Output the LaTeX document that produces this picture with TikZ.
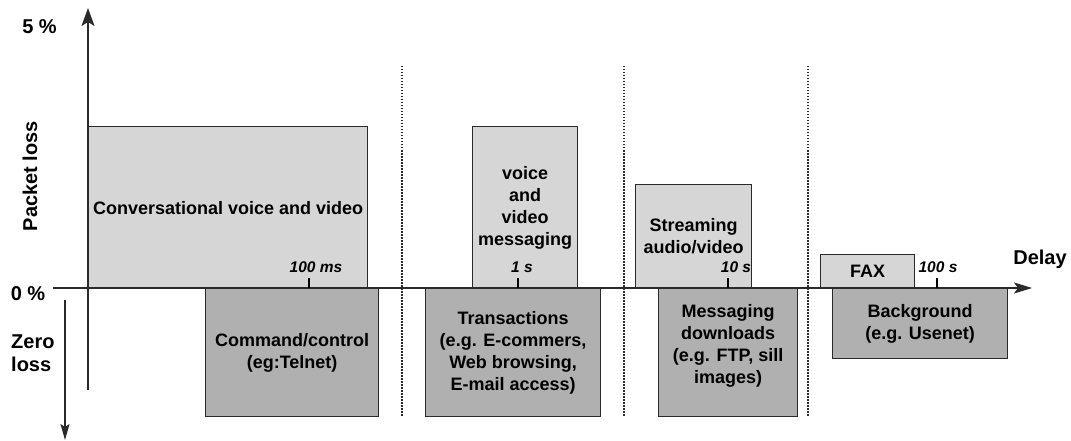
\documentclass[tikz,border=0pt]{standalone}
\usepackage{fontspec}
\setmainfont{Liberation Sans}
\usetikzlibrary{arrows.meta}
\definecolor{upfill}{HTML}{D6D6D6}
\definecolor{downfill}{HTML}{B0B0B0}
\definecolor{edge}{HTML}{2A2A2A}
\tikzset{
  axisline/.style={draw=edge, line width=1.4pt},
  upbox/.style={draw=edge, fill=upfill, line width=1.2pt, inner sep=0pt,
    align=center, font=\fontsize{18}{22}\selectfont\bfseries},
  downbox/.style={draw=edge, fill=downfill, line width=1.2pt, inner sep=0pt,
    align=center, font=\fontsize{18}{22}\selectfont\bfseries},
  ticklbl/.style={font=\fontsize{15.5}{17}\selectfont\bfseries\itshape, inner sep=0pt},
  axislbl/.style={font=\fontsize{20}{23}\selectfont\bfseries, inner sep=0pt, align=left},
  sep/.style={draw=edge, line width=1.1pt, dash pattern=on 1.5pt off 1.5pt},
  tickmark/.style={draw=black, line width=1.6pt},
}
\begin{document}
\begin{tikzpicture}[x=1pt, y=-1pt]
\useasboundingbox (0,0) rectangle (1071,441);

% category boxes above the delay axis (tolerated loss)
\node[upbox, minimum width=279pt, minimum height=162pt, anchor=north west] (conv) at (88,126) {Conversational voice and video};
\node[upbox, minimum width=105pt, minimum height=162pt, anchor=north west] (vmsg) at (472,126) {voice\\and\\video\\messaging};
\node[upbox, minimum width=116pt, minimum height=104pt, anchor=north west] (strm) at (635,184) {Streaming\\audio/video};
\node[upbox, minimum width=94pt, minimum height=34pt, anchor=north west] (fax) at (820,254) {FAX};

% category boxes below the delay axis (zero loss)
\node[downbox, minimum width=173pt, minimum height=128pt, anchor=north west] (cmd) at (205,288) {Command/control\\(eg:Telnet)};
\node[downbox, minimum width=175pt, minimum height=128pt, anchor=north west] (trans) at (425,288) {Transactions\\(e.g. E-commers,\\Web browsing,\\E-mail access)};
\node[downbox, minimum width=139pt, minimum height=128pt, anchor=north west] (dl) at (658,288) {Messaging\\downloads\\(e.g. FTP, sill\\images)\\[-4pt]};
\node[downbox, minimum width=175pt, minimum height=70pt, anchor=north west] (bg) at (832,288) {Background\\(e.g. Usenet)};

% dotted separators between delay ranges
\foreach \xs [count=\i] in {402,624,808} {
  \coordinate (st\i) at (\xs,66);
  \coordinate (sb\i) at (\xs,416);
  \draw[sep] (st\i) -- (sb\i);
}

% axes
\coordinate (yb) at (88,390);
\coordinate (yt) at (88,8);
\coordinate (xl) at (53,288);
\coordinate (xr) at (1032,288);
\coordinate (zt) at (65,300);
\coordinate (zb) at (65,440);
\draw[axisline, -{Stealth[length=18pt, width=13pt, inset=4pt]}] (yb) -- (yt);
\draw[axisline, -{Stealth[length=18pt, width=11pt, inset=4pt]}] (xl) -- (xr);
\draw[draw=edge, line width=1.1pt, -{Stealth[length=16pt, width=9pt, inset=3pt]}] (zt) -- (zb);

% delay ticks and their labels
\foreach \xt/\xl/\lbl [count=\i] in {309/316/100 ms, 518/522/1 s, 728/736/10 s, 937/938/100 s} {
  \coordinate (tk\i) at (\xt,288);
  \coordinate (tt\i) at (\xt,278);
  \draw[tickmark] (tk\i) -- (tt\i);
  \node[ticklbl, anchor=base] (tl\i) at (\xl,272) {\lbl};
}

% axis labels
\node[axislbl] (p5) at (39.5,27) {5 \%};
\node[axislbl] (p0) at (28,294) {0 \%};
\node[axislbl, anchor=west] (zl) at (11,353) {Zero\\loss};
\node[axislbl, rotate=90] (pl) at (30,176) {Packet loss};
\node[axislbl] (dly) at (1040,259) {Delay};
\end{tikzpicture}
\end{document}
